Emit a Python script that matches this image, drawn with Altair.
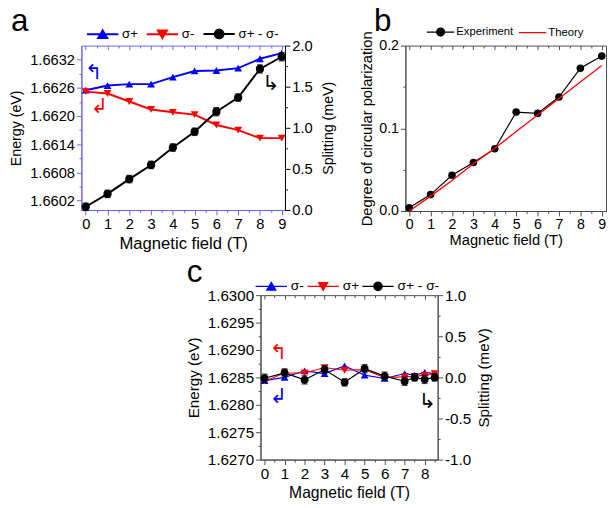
import altair as alt
import pandas as pd

FONT = "Liberation Sans"
SYM_FONT = "DejaVu Sans"
BLUE = "#0000ff"
RED = "#ff0000"
BLACK = "#000000"
AXIS_BLUE = "#6464ff"
AXIS_GRAY = "#4d4d4d"

# ---------------- panel a ----------------
A_FIELD = [0, 1, 2, 3, 4, 5, 6, 7, 8, 9]
A_SIGMA_PLUS = [1.66255, 1.66265, 1.66268, 1.66268, 1.66283, 1.66296, 1.66297, 1.66302, 1.66322, 1.66334]
A_SIGMA_MINUS = [1.66252, 1.66248, 1.66231, 1.66214, 1.66208, 1.66203, 1.66181, 1.66170, 1.66153, 1.66153]
A_SPLIT = [0.04, 0.196, 0.376, 0.548, 0.76, 0.952, 1.196, 1.368, 1.716, 1.864]
A_SPLIT_ERR = [0.045, 0.045, 0.045, 0.045, 0.045, 0.045, 0.05, 0.045, 0.05, 0.05]
A_NAMES = ["σ+", "σ-", "σ+ - σ-"]
A_X_MAJOR = [0, 1, 2, 3, 4, 5, 6, 7, 8, 9]
A_X_MINOR = [0.5, 1.5, 2.5, 3.5, 4.5, 5.5, 6.5, 7.5, 8.5]
A_E_MAJOR = [1.6602, 1.6608, 1.6614, 1.6620, 1.6626, 1.6632]
A_E_MINOR = [1.6605, 1.6611, 1.6617, 1.6623, 1.6629]
A_S_MAJOR = [0.0, 0.5, 1.0, 1.5, 2.0]
A_S_MINOR = [0.25, 0.75, 1.25, 1.75]
A_ARROW_TEXT = ["↰", "↲"]
A_ARROW_X = [0.36, 0.63]
A_ARROW_E = [1.66292, 1.66220]
A_ARROW_COLOR = [BLUE, RED]
A_ARROW_S_TEXT = ["↳"]
A_ARROW_S_X = [8.5]
A_ARROW_S_Y = [1.536]

# ---------------- panel b ----------------
B_FIELD = [0, 1, 2, 3, 4, 5, 6, 7, 8, 9]
B_EXPERIMENT = [0.004, 0.0198, 0.0432, 0.0586, 0.0752, 0.1196, 0.118, 0.1378, 0.1727, 0.1873]
B_THEORY = [0.0, 0.018, 0.037, 0.057, 0.076, 0.096, 0.116, 0.136, 0.156, 0.176]
B_NAMES = ["Experiment", "Theory"]
B_Y_MAJOR = [0.0, 0.1, 0.2]
B_Y_MINOR = [0.05, 0.15]

# ---------------- panel c ----------------
C_FIELD = [0, 1, 2, 3, 4, 5, 6, 7, 7.5, 8, 8.5]
C_SIGMA_MINUS = [1.62844, 1.62850, 1.62862, 1.62857, 1.62871, 1.62854, 1.62848, 1.62857, 1.62854, 1.62859, 1.62857]
C_SIGMA_PLUS = [1.62843, 1.62858, 1.62858, 1.62868, 1.62863, 1.62864, 1.62850, 1.62851, 1.62852, 1.62854, 1.62857]
C_SPLIT = [-0.01, 0.055, -0.03, 0.095, -0.06, 0.105, 0.015, -0.047, 0.0, -0.024, 0.0]
C_SPLIT_ERR = [0.05, 0.05, 0.05, 0.045, 0.045, 0.05, 0.05, 0.05, 0.045, 0.05, 0.045]
C_NAMES = ["σ-", "σ+", "σ+ - σ-"]
C_X_MAJOR = [0, 1, 2, 3, 4, 5, 6, 7, 8]
C_X_MINOR = [0.5, 1.5, 2.5, 3.5, 4.5, 5.5, 6.5, 7.5, 8.5]
C_E_MAJOR = [1.6270, 1.6275, 1.6280, 1.6285, 1.6290, 1.6295, 1.6300]
C_E_MINOR = [1.62725, 1.62775, 1.62825, 1.62875, 1.62925, 1.62975]
C_S_MAJOR = [-1.0, -0.5, 0.0, 0.5, 1.0]
C_S_MINOR = [-0.75, -0.25, 0.25, 0.75]
C_ARROW_TEXT = ["↰", "↲"]
C_ARROW_X = [0.69, 0.69]
C_ARROW_E = [1.628945, 1.628144]
C_ARROW_COLOR = [RED, BLUE]
C_ARROW_S_TEXT = ["↳"]
C_ARROW_S_X = [8.13]
C_ARROW_S_Y = [-0.30]

# legend symbols: line segment + marker, as custom paths
def line_path(h):
    return "M%.2f,0H%.2f" % (-h, h)

def tri_up(h):
    return line_path(h) + "M0,-0.8L0.92,0.75L-0.92,0.75Z"

def tri_down(h):
    return line_path(h) + "M0,0.8L0.92,-0.75L-0.92,-0.75Z"

def circ(h, r=0.85):
    return line_path(h) + "M%.2f,0A%.2f,%.2f 0 1,0 %.2f,0A%.2f,%.2f 0 1,0 %.2f,0Z" % (-r, r, r, r, r, r, -r)


def major_test(major):
    # compare on absolute values (d3-format writes negatives with a unicode minus)
    keys = ",".join("'" + format(abs(v), ".5f") + "'" for v in major)
    return "indexof([" + keys + "], format(abs(datum.value), '.5f')) >= 0"


def tick_axis(major, minor, label_fmt, color, label_size, **kw):
    vals = sorted(major + minor)
    test = major_test(major)
    return alt.Axis(
        values=vals,
        labelExpr=test + " ? replace(format(datum.value, '" + label_fmt + "'), '\u2212', '-') : ''",
        tickSize={"condition": {"test": test, "value": 5}, "value": 2.5},
        tickColor=color, domainColor=color, tickWidth=1, domainWidth=1,
        labelColor=BLACK, titleColor=BLACK,
        labelFont=FONT, labelFontSize=label_size, titleFont=FONT,
        titleFontWeight="normal", grid=False, labelOverlap=False, labelFlush=False,
        labelPadding=2, **kw)


def top_axis(major, minor, color, height):
    vals = sorted(major + minor)
    test = major_test(major)
    return alt.Axis(
        orient="bottom", offset=-height, values=vals, labels=False, domain=False,
        title=None, grid=False, tickColor=color, tickWidth=1,
        tickSize={"condition": {"test": test, "value": 4}, "value": 2.5})


def legend_layer(names, colors, paths, legend):
    df = pd.DataFrame({"s": names})
    return alt.Chart(df).transform_filter("false").mark_point(filled=True, opacity=1).encode(
        fill=alt.Fill("s:N", scale=alt.Scale(domain=names, range=colors), legend=legend),
        stroke=alt.Stroke("s:N", scale=alt.Scale(domain=names, range=colors), legend=legend),
        shape=alt.Shape("s:N", scale=alt.Scale(domain=names, range=paths), legend=legend),
    )


def arrows(xs, ys, texts, colors, xenc, yfield_title, yscale, yaxis):
    df = pd.DataFrame({"B": xs, "v": ys, "t": texts, "c": colors})
    return alt.Chart(df).mark_text(font=SYM_FONT, fontSize=21).encode(
        x=xenc,
        y=alt.Y("v:Q", scale=yscale, axis=yaxis, title=yfield_title),
        text="t:N",
        color=alt.Color("c:N", scale=None),
    )


def title(letter, dx, offset):
    return alt.Title(letter, font=FONT, fontSize=32, fontWeight="normal", anchor="start",
                     frame="bounds", dx=dx, offset=offset, color=BLACK)


# ================= panel a =================
AW, AH = 208, 168
a_df = pd.DataFrame({
    "B": A_FIELD, "plus": A_SIGMA_PLUS, "minus": A_SIGMA_MINUS, "split": A_SPLIT,
    "lo": [v - e for v, e in zip(A_SPLIT, A_SPLIT_ERR)],
    "hi": [v + e for v, e in zip(A_SPLIT, A_SPLIT_ERR)],
})
a_xscale = alt.Scale(domain=[-0.2, 9.15], nice=False, zero=False)
a_xmain = alt.X("B:Q", scale=a_xscale,
                axis=tick_axis(A_X_MAJOR, A_X_MINOR, ".0f", AXIS_BLUE, 15,
                               title="Magnetic field (T)", titleFontSize=17, titlePadding=4))
a_xtop = alt.X("B:Q", scale=a_xscale, axis=top_axis(A_X_MAJOR, A_X_MINOR, AXIS_BLUE, AH))
a_escale = alt.Scale(domain=[1.6600, 1.6635], nice=False, zero=False)
a_eaxis = tick_axis(A_E_MAJOR, A_E_MINOR, ".4f", AXIS_BLUE, 15,
                    title="Energy (eV)", titleFontSize=14.5, titlePadding=6)
a_sscale = alt.Scale(domain=[0, 2.0], nice=False, zero=False)
a_saxis = tick_axis(A_S_MAJOR, A_S_MINOR, ".1f", BLACK, 15, orient="right",
                    title="Splitting (meV)", titleFontSize=14.5, titlePadding=10,
                    titleAngle=270, titleBaseline="top")

a_base = alt.Chart(a_df)
a_left = alt.layer(
    a_base.mark_line(color=BLUE, strokeWidth=2).encode(
        x=a_xmain, y=alt.Y("plus:Q", scale=a_escale, axis=a_eaxis, title="Energy (eV)")),
    a_base.mark_point(shape="triangle-up", filled=True, color=BLUE, size=64, opacity=1).encode(
        x=a_xmain, y=alt.Y("plus:Q", scale=a_escale, axis=a_eaxis, title="Energy (eV)")),
    a_base.mark_line(color=RED, strokeWidth=2).encode(
        x=a_xmain, y=alt.Y("minus:Q", scale=a_escale, axis=a_eaxis, title="Energy (eV)")),
    a_base.mark_point(shape="triangle-down", filled=True, color=RED, size=64, opacity=1).encode(
        x=a_xmain, y=alt.Y("minus:Q", scale=a_escale, axis=a_eaxis, title="Energy (eV)")),
    arrows(A_ARROW_X, A_ARROW_E, A_ARROW_TEXT, A_ARROW_COLOR, a_xmain, "Energy (eV)", a_escale, a_eaxis),
)
a_legend = alt.Legend(orient="none", legendX=15, legendY=-19, direction="horizontal", title=None,
                      labelFont=FONT, labelFontSize=13.5, labelColor=BLACK, symbolSize=100,
                      symbolStrokeWidth=2, labelOffset=13, columnPadding=4, padding=0)
a_right = alt.layer(
    a_base.mark_line(color=BLACK, strokeWidth=2).encode(
        x=a_xtop, y=alt.Y("split:Q", scale=a_sscale, axis=a_saxis, title="Splitting (meV)")),
    a_base.mark_errorbar(ticks=True, color=BLACK, thickness=1.3, size=6).encode(
        x=a_xtop, y=alt.Y("lo:Q", scale=a_sscale, axis=a_saxis, title="Splitting (meV)"), y2="hi:Q"),
    a_base.mark_point(shape="circle", filled=True, color=BLACK, size=70, opacity=1).encode(
        x=a_xtop, y=alt.Y("split:Q", scale=a_sscale, axis=a_saxis, title="Splitting (meV)")),
    arrows(A_ARROW_S_X, A_ARROW_S_Y, A_ARROW_S_TEXT, [BLACK], a_xtop, "Splitting (meV)", a_sscale, a_saxis),
    legend_layer(A_NAMES, [BLUE, RED, BLACK], [tri_up(3.2), tri_down(3.2), circ(3.2, 0.9)], a_legend),
)
panel_a = alt.layer(a_left, a_right).resolve_scale(y="independent").resolve_axis(
    x="independent", y="independent").properties(
    width=AW, height=AH, title=title("a", 2, -11),
    view=alt.ViewBackground(stroke=AXIS_BLUE, strokeWidth=1))

# ================= panel b =================
BW, BH = 205, 169
b_df = pd.DataFrame({"B": B_FIELD, "exp": B_EXPERIMENT, "th": B_THEORY})
b_xscale = alt.Scale(domain=[-0.18, 9.2], nice=False, zero=False)
b_xmain = alt.X("B:Q", scale=b_xscale,
                axis=tick_axis(A_X_MAJOR, A_X_MINOR, ".0f", AXIS_GRAY, 14.5,
                               title="Magnetic field (T)", titleFontSize=15, titlePadding=2))
b_xtop = alt.X("B:Q", scale=b_xscale, axis=top_axis(A_X_MAJOR, A_X_MINOR, AXIS_GRAY, BH))
b_yscale = alt.Scale(domain=[0, 0.2], nice=False, zero=False)
b_yaxis = tick_axis(B_Y_MAJOR, B_Y_MINOR, ".1f", AXIS_GRAY, 14.5,
                    title="Degree of circular polarization", titleFontSize=15, titlePadding=4)
b_base = alt.Chart(b_df)
b_legend = alt.Legend(orient="none", legendX=30, legendY=-20, direction="horizontal", title=None,
                      labelFont=FONT, labelFontSize=11.5, labelColor=BLACK, symbolSize=100,
                      symbolStrokeWidth=1.3, labelOffset=10, columnPadding=2, padding=0)
b_g1 = alt.layer(
    b_base.mark_line(color=BLACK, strokeWidth=1.2).encode(
        x=b_xmain, y=alt.Y("exp:Q", scale=b_yscale, axis=b_yaxis, title="Degree of circular polarization")),
    b_base.mark_point(shape="circle", filled=True, color=BLACK, size=60, opacity=1).encode(
        x=b_xmain, y=alt.Y("exp:Q", scale=b_yscale, axis=b_yaxis, title="Degree of circular polarization")),
)
b_g2 = alt.layer(
    b_base.mark_line(color=RED, strokeWidth=1.3).encode(
        x=b_xtop, y=alt.Y("th:Q", scale=b_yscale, axis=b_yaxis, title="Degree of circular polarization")),
    legend_layer(B_NAMES, [BLACK, RED], [circ(2.8, 0.8), line_path(2.8)], b_legend),
)
panel_b = alt.layer(b_g1, b_g2).resolve_axis(x="independent").properties(
    width=BW, height=BH, title=title("b", 14, -12),
    view=alt.ViewBackground(stroke=AXIS_GRAY, strokeWidth=1))

# ================= panel c =================
CW, CH = 181, 168
c_df = pd.DataFrame({
    "B": C_FIELD, "minus": C_SIGMA_MINUS, "plus": C_SIGMA_PLUS, "split": C_SPLIT,
    "lo": [v - e for v, e in zip(C_SPLIT, C_SPLIT_ERR)],
    "hi": [v + e for v, e in zip(C_SPLIT, C_SPLIT_ERR)],
})
c_xscale = alt.Scale(domain=[-0.2, 8.65], nice=False, zero=False)
c_xmain = alt.X("B:Q", scale=c_xscale,
                axis=tick_axis(C_X_MAJOR, C_X_MINOR, ".0f", AXIS_GRAY, 15.5,
                               title="Magnetic field (T)", titleFontSize=16, titlePadding=3))
c_xtop = alt.X("B:Q", scale=c_xscale, axis=top_axis(C_X_MAJOR, C_X_MINOR, AXIS_GRAY, CH))
c_escale = alt.Scale(domain=[1.6270, 1.6300], nice=False, zero=False)
c_eaxis = tick_axis(C_E_MAJOR, C_E_MINOR, ".4f", AXIS_GRAY, 15.5,
                    title="Energy (eV)", titleFontSize=15.5, titlePadding=6)
c_sscale = alt.Scale(domain=[-1.0, 1.0], nice=False, zero=False)
c_saxis = tick_axis(C_S_MAJOR, C_S_MINOR, ".1f", AXIS_GRAY, 15.5, orient="right",
                    title="Splitting  (meV)", titleFontSize=15.5, titlePadding=6,
                    titleAngle=270, titleBaseline="top")
c_base = alt.Chart(c_df)
c_left = alt.layer(
    c_base.mark_line(color=BLUE, strokeWidth=1.2).encode(
        x=c_xmain, y=alt.Y("minus:Q", scale=c_escale, axis=c_eaxis, title="Energy (eV)")),
    c_base.mark_point(shape="triangle-up", filled=True, color=BLUE, size=64, opacity=1).encode(
        x=c_xmain, y=alt.Y("minus:Q", scale=c_escale, axis=c_eaxis, title="Energy (eV)")),
    c_base.mark_line(color=RED, strokeWidth=1.2).encode(
        x=c_xmain, y=alt.Y("plus:Q", scale=c_escale, axis=c_eaxis, title="Energy (eV)")),
    c_base.mark_point(shape="triangle-down", filled=True, color=RED, size=64, opacity=1).encode(
        x=c_xmain, y=alt.Y("plus:Q", scale=c_escale, axis=c_eaxis, title="Energy (eV)")),
    arrows(C_ARROW_X, C_ARROW_E, C_ARROW_TEXT, C_ARROW_COLOR, c_xmain, "Energy (eV)", c_escale, c_eaxis),
)
c_legend = alt.Legend(orient="none", legendX=4, legendY=-16, direction="horizontal", title=None,
                      labelFont=FONT, labelFontSize=14, labelColor=BLACK, symbolSize=100,
                      symbolStrokeWidth=1.3, labelOffset=13, columnPadding=0, padding=0)
c_right = alt.layer(
    c_base.mark_line(color=BLACK, strokeWidth=1.2).encode(
        x=c_xtop, y=alt.Y("split:Q", scale=c_sscale, axis=c_saxis, title="Splitting  (meV)")),
    c_base.mark_errorbar(ticks=True, color=BLACK, thickness=1.3, size=6).encode(
        x=c_xtop, y=alt.Y("lo:Q", scale=c_sscale, axis=c_saxis, title="Splitting  (meV)"), y2="hi:Q"),
    c_base.mark_point(shape="circle", filled=True, color=BLACK, size=64, opacity=1).encode(
        x=c_xtop, y=alt.Y("split:Q", scale=c_sscale, axis=c_saxis, title="Splitting  (meV)")),
    arrows(C_ARROW_S_X, C_ARROW_S_Y, C_ARROW_S_TEXT, [BLACK], c_xtop, "Splitting  (meV)", c_sscale, c_saxis),
    legend_layer(C_NAMES, [BLUE, RED, BLACK], [tri_up(3.2), tri_down(3.2), circ(3.2, 0.85)], c_legend),
)
panel_c = alt.layer(c_left, c_right).resolve_scale(y="independent").resolve_axis(
    x="independent", y="independent").properties(
    width=CW, height=CH, title=title("c", 0, -10),
    view=alt.ViewBackground(stroke=AXIS_GRAY, strokeWidth=1))

spacer = alt.Chart(pd.DataFrame({"v": [0]})).mark_point(opacity=0).properties(
    width=106, height=10, view=alt.ViewBackground(stroke="transparent"))

IND = dict(fill="independent", stroke="independent", shape="independent")
top_row = alt.hconcat(panel_a, panel_b, spacing=24).resolve_scale(**IND).resolve_legend(**IND)
bottom_row = alt.hconcat(spacer, panel_c, spacing=0).resolve_scale(**IND).resolve_legend(**IND)
chart = alt.vconcat(top_row, bottom_row, spacing=4).resolve_scale(**IND).resolve_legend(**IND).properties(
    padding={"top": -9, "left": 0, "right": 0, "bottom": 0}, background="white")

chart.save("out.html", embed_options={"renderer": "svg", "actions": False})
